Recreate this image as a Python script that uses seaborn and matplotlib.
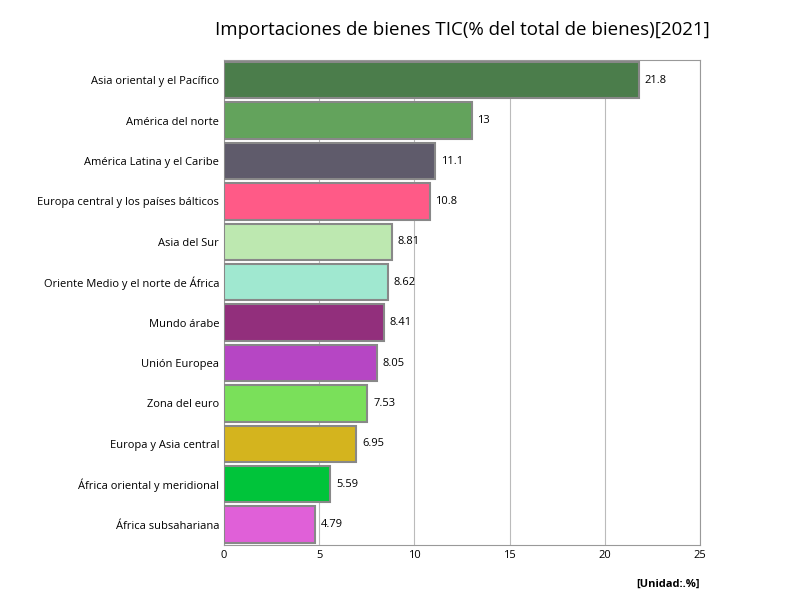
import matplotlib
matplotlib.use("Agg")
import matplotlib.pyplot as plt
import seaborn as sns
import pandas as pd

regiones = ["Asia oriental y el Pacífico", "América del norte", "América Latina y el Caribe",
            "Europa central y los países bálticos", "Asia del Sur",
            "Oriente Medio y el norte de África", "Mundo árabe", "Unión Europea",
            "Zona del euro", "Europa y Asia central", "África oriental y meridional",
            "África subsahariana"]
valores = [21.8, 13, 11.1, 10.8, 8.81, 8.62, 8.41, 8.05, 7.53, 6.95, 5.59, 4.79]
etiquetas = ["21.8", "13", "11.1", "10.8", "8.81", "8.62", "8.41", "8.05", "7.53", "6.95", "5.59", "4.79"]
colores = ["#4b7d4b", "#63a35c", "#5f5b6b", "#ff5a87", "#bde8b0", "#a0e8d0",
           "#922f7c", "#b646c4", "#7ae05a", "#d4b41e", "#00c43a", "#e060d8"]

plt.rcParams["font.family"] = "Open Sans"
df = pd.DataFrame({"region": regiones, "valor": valores})

fig = plt.figure(figsize=(8, 6), dpi=100)
ax = fig.add_axes([0.28, 0.092, 0.595, 0.808])
sns.barplot(data=df, x="valor", y="region", hue="region", palette=colores, saturation=1,
            legend=False, ax=ax, width=0.9, edgecolor="#888888", linewidth=1.5, zorder=3)
for i, (v, t) in enumerate(zip(valores, etiquetas)):
    ax.text(v + 0.3, i, t, va="center", ha="left", fontsize=8)

ax.set_xlim(0, 25)
ax.set_xticks([0, 5, 10, 15, 20, 25])
ax.grid(axis="x", color="#bbbbbb", zorder=0)
ax.set_xlabel("")
ax.set_ylabel("")
ax.tick_params(axis="y", length=0, labelsize=8)
ax.tick_params(axis="x", length=0, labelsize=8)
for s in ax.spines.values():
    s.set_color("#999999")
fig.text(0.578, 0.942, "Importaciones de bienes TIC(% del total de bienes)[2021]",
         ha="center", fontsize=13.5)
fig.text(0.875, 0.022, "[Unidad:.%]", ha="right", fontsize=8, fontweight="bold")
fig.savefig("out.png")
